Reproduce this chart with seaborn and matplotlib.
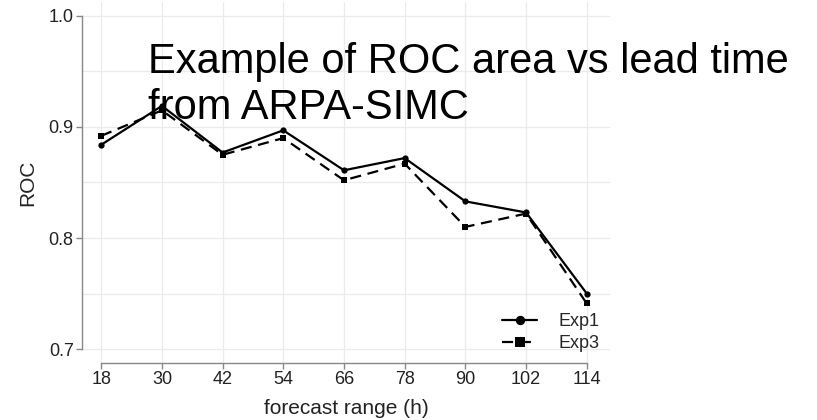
import matplotlib
matplotlib.use("Agg")
import matplotlib.pyplot as plt
import seaborn as sns
import pandas as pd
from matplotlib.ticker import MultipleLocator

lead_times = [18, 30, 42, 54, 66, 78, 90, 102, 114]
exp1 = [0.884, 0.919, 0.877, 0.897, 0.861, 0.872, 0.833, 0.823, 0.750]
exp3 = [0.892, 0.915, 0.875, 0.890, 0.852, 0.867, 0.810, 0.822, 0.741]
series_names = ["Exp1", "Exp3"]
y_ticks = [0.7, 0.8, 0.9, 1.0]
y_tick_labels = ["0.7", "0.8", "0.9", "1.0"]
title_text = "Example of ROC area vs lead time\nfrom ARPA-SIMC"

df = pd.DataFrame({
    "forecast range (h)": lead_times * 2,
    "ROC": exp1 + exp3,
    "exp": [series_names[0]] * len(lead_times) + [series_names[1]] * len(lead_times),
})

sns.set_theme(style="white")
plt.rcParams["font.family"] = ["Liberation Sans", "DejaVu Sans"]

fig = plt.figure(figsize=(8.17, 4.20), dpi=100)
ax = fig.add_axes([82 / 817, 1 - 363 / 420, (610 - 82) / 817, (363 - 2) / 420])

sns.lineplot(
    data=df, x="forecast range (h)", y="ROC", style="exp",
    markers={"Exp1": "o", "Exp3": "s"},
    dashes={"Exp1": "", "Exp3": (5, 3)},
    color="black", linewidth=1.6, markersize=4.5, markeredgewidth=0,
    ax=ax,
)

ax.set_xlim(14.2, 118.6)
ax.set_ylim(0.6874, 1.0126)
ax.set_xticks(lead_times)
ax.set_xticklabels([str(v) for v in lead_times])
ax.set_yticks(y_ticks)
ax.set_yticklabels(y_tick_labels)
ax.yaxis.set_minor_locator(MultipleLocator(0.05))

ax.grid(True, which="major", color="#ebebeb", linewidth=0.9)
ax.grid(True, which="minor", axis="y", color="#ebebeb", linewidth=0.9)
ax.set_axisbelow(True)

for s in ["top", "right"]:
    ax.spines[s].set_visible(False)
for s in ["left", "bottom"]:
    ax.spines[s].set_color("#888888")
    ax.spines[s].set_linewidth(1.0)
ax.spines["left"].set_bounds(0.7, 1.0)
ax.spines["bottom"].set_bounds(18, 114)

ax.tick_params(axis="both", which="major", direction="out", length=4, width=1.0,
               color="#888888", labelsize=13, labelcolor="#222222", pad=2,
               left=True, bottom=True)
ax.tick_params(axis="y", which="minor", length=0)

ax.set_xlabel("forecast range (h)", fontsize=15, color="#222222", labelpad=8)
ax.set_ylabel("ROC", fontsize=15, color="#222222", labelpad=8)

leg = ax.legend(title=None, frameon=False, fontsize=13, loc="lower right",
                bbox_to_anchor=(1.01, -0.015), handlelength=1.95, handletextpad=1.15,
                labelspacing=0.28, markerscale=1.5)

fig.text(148 / 817, 1 - 119 / 420, title_text, fontsize=30, ha="left", va="baseline",
         linespacing=1.2, color="black")

fig.savefig("out.png", dpi=100)
